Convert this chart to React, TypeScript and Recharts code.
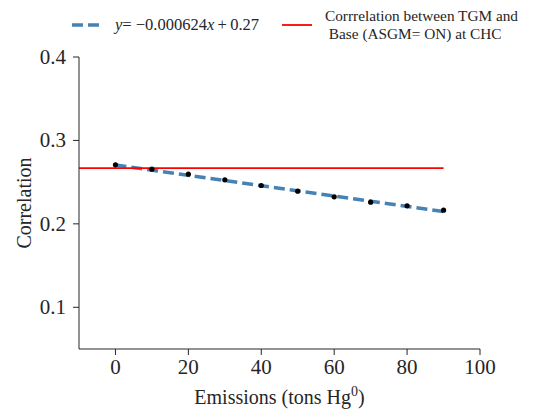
import React from 'react';
import { ComposedChart, Line, Scatter, XAxis, YAxis, Label } from 'recharts';

const emissions = [0, 10, 20, 30, 40, 50, 60, 70, 80, 90];
const correlation = [0.2708, 0.2656, 0.2596, 0.2528, 0.246, 0.2392, 0.2324, 0.226, 0.2216, 0.2164];

// fitted line endpoints (y = -0.000624x + 0.27)
const fitX = [0, 90];
const fitY = [0.2705, 0.2148];

// CHC base correlation, horizontal reference
const baseX = [-10, 90];
const baseY = [0.2668, 0.2668];

const xTicks = [0, 20, 40, 60, 80, 100];
const yTicks = [0.1, 0.2, 0.3, 0.4];

const INK = '#262626';
const FONT = "'Liberation Serif', 'Times New Roman', Times, serif";

const points = emissions.map((x, i) => ({ x, y: correlation[i] }));
const fitData = fitX.map((x, i) => ({ x, y: fitY[i] }));
const baseData = baseX.map((x, i) => ({ x, y: baseY[i] }));

type Box = { x: number; y: number; width: number; height: number };

function Dot(props: { cx?: number; cy?: number }) {
  if (props.cx == null || props.cy == null) return null;
  return <circle cx={props.cx} cy={props.cy} r={2.6} fill="#000" />;
}

function XTick(props: any) {
  const { x, y, payload } = props;
  return (
    <text x={x} y={y} dy="0.72em" textAnchor="middle" fill={INK} fontSize={21} fontFamily={FONT}>
      {payload.value}
    </text>
  );
}

function YTick(props: any) {
  const { x, y, payload } = props;
  return (
    <text x={x} y={y} dy="0.33em" textAnchor="end" fill={INK} fontSize={21} fontFamily={FONT}>
      {payload.value.toFixed(1)}
    </text>
  );
}

function XLabel({ viewBox }: { viewBox?: Box }) {
  if (!viewBox) return null;
  const cx = viewBox.x + viewBox.width / 2;
  return (
    <text x={cx} y={viewBox.y + 55} textAnchor="middle" fill={INK} fontSize={20} fontFamily={FONT}>
      Emissions (tons Hg
      <tspan fontSize={14} dy={-8}>0</tspan>
      <tspan dy={8}>)</tspan>
    </text>
  );
}

function YLabel({ viewBox }: { viewBox?: Box }) {
  if (!viewBox) return null;
  const cy = viewBox.y + viewBox.height / 2;
  return (
    <text
      x={24}
      y={cy}
      dy="0.35em"
      transform={`rotate(-90, 24, ${cy})`}
      textAnchor="middle"
      fill={INK}
      fontSize={20}
      fontFamily={FONT}
    >
      Correlation
    </text>
  );
}

function LegendBox() {
  return (
    <div style={{ position: 'absolute', left: 0, top: 0, width: 548, height: 48, fontFamily: FONT, color: INK }}>
      <svg width={548} height={48} style={{ position: 'absolute', left: 0, top: 0 }}>
        <line x1={72} y1={25} x2={102} y2={25} stroke="#4682b4" strokeWidth={3.5} strokeDasharray="11 5" />
        <line x1={282} y1={25} x2={312} y2={25} stroke="#ff0000" strokeWidth={1.8} />
      </svg>
      <div style={{ position: 'absolute', left: 115, top: 15, fontSize: 16.5, lineHeight: '19px', whiteSpace: 'nowrap' }}>
        <i>y</i>=&nbsp;−0.000624<i>x</i>&thinsp;+&thinsp;0.27
      </div>
      <div style={{ position: 'absolute', left: 325, top: 7, fontSize: 15.3, lineHeight: '17.5px', whiteSpace: 'nowrap' }}>
        Corrrelation between TGM and
        <br />
        &nbsp;Base (ASGM= ON) at CHC
      </div>
    </div>
  );
}

export default function App() {
  return (
    <div style={{ position: 'absolute', left: 0, top: 0, width: 548, height: 413, background: '#fff' }}>
      <ComposedChart width={548} height={413} margin={{ top: 57, right: 68, bottom: 0, left: 0 }}>
        <XAxis
          type="number"
          dataKey="x"
          domain={[-10, 100]}
          ticks={xTicks}
          allowDataOverflow
          height={64}
          stroke={INK}
          tickSize={6}
          tickMargin={4}
          tick={<XTick />}
        >
          <Label content={<XLabel />} />
        </XAxis>
        <YAxis
          type="number"
          domain={[0.05, 0.4]}
          ticks={yTicks}
          allowDataOverflow
          width={79}
          stroke={INK}
          tickSize={6}
          tickMargin={7}
          tick={<YTick />}
        >
          <Label content={<YLabel />} />
        </YAxis>
        <Line
          data={fitData}
          dataKey="y"
          stroke="#4682b4"
          strokeWidth={3.5}
          strokeDasharray="11 5"
          dot={false}
          activeDot={false}
          isAnimationActive={false}
        />
        <Line
          data={baseData}
          dataKey="y"
          stroke="#ff0000"
          strokeWidth={1.8}
          dot={false}
          activeDot={false}
          isAnimationActive={false}
        />
        <Scatter data={points} dataKey="y" shape={<Dot />} isAnimationActive={false} />
      </ComposedChart>
      <LegendBox />
    </div>
  );
}
